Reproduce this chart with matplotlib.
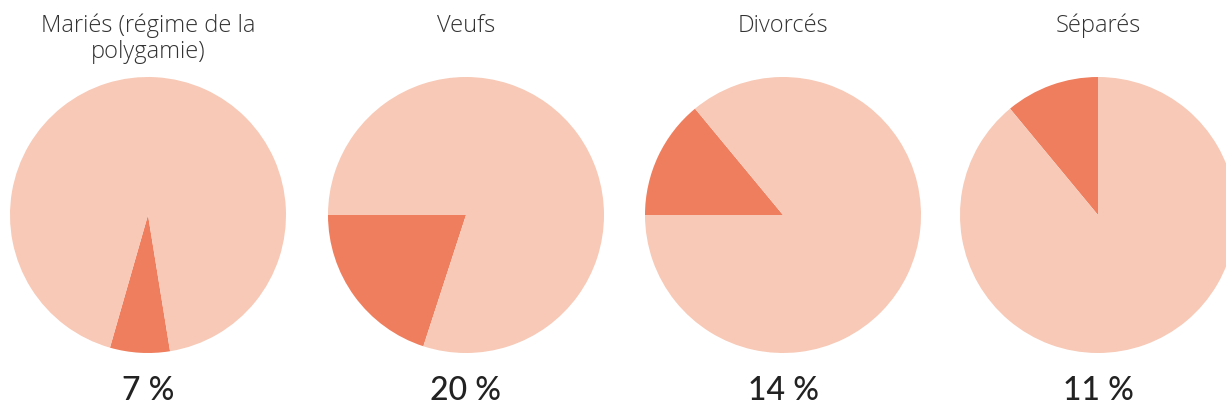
import matplotlib
matplotlib.use("Agg")
import matplotlib.pyplot as plt

titles = ["Mariés (régime de la\npolygamie)", "Veufs", "Divorcés", "Séparés"]
pcts = [7, 20, 14, 11]
labels = ["7 %", "20 %", "14 %", "11 %"]
starts = [-106, 180, 129.6, 90]
centers_x = [148, 466, 783, 1098]

W, H = 1226, 409
cy, r = 215, 138
light = "#F7C9B6"
dark = "#EE7E5D"

fig = plt.figure(figsize=(W / 100, H / 100), dpi=100)

for title, p, lab, st, cx in zip(titles, pcts, labels, starts, centers_x):
    ax = fig.add_axes([(cx - r) / W, (H - cy - r) / H, 2 * r / W, 2 * r / H])
    ax.pie([p, 100 - p], colors=[dark, light], startangle=st,
           counterclock=True, radius=1, wedgeprops=dict(linewidth=0))
    ax.set_xlim(-1, 1)
    ax.set_ylim(-1, 1)
    ax.set_aspect("equal")
    ax.axis("off")
    fig.text(cx / W, 1 - 14 / H, title, ha="center", va="top",
             fontsize=17, family="Open Sans", weight="light", color="#333333",
             linespacing=1.1)
    fig.text(cx / W, 1 - 391 / H, lab, ha="center", va="center",
             fontsize=23, family="Lato", weight="medium", color="#222222")

fig.savefig("out.png", dpi=100)
